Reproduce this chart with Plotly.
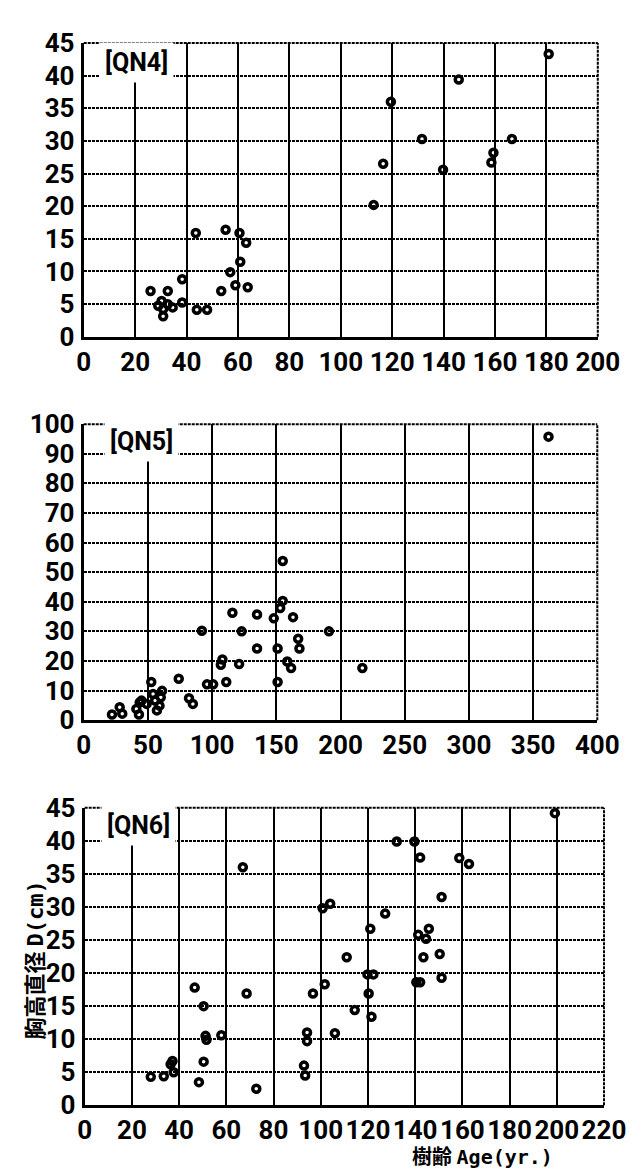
import plotly.graph_objects as go

# ---- data ----
qn4_age = [26, 29, 30.3, 30.9, 30.9, 32.7, 32.7, 34.6, 38.3, 38.3, 43.6, 44, 48, 53.5, 55.2, 57,
           59, 60.6, 60.9, 63.2, 63.8, 112.8, 116.5, 119.5, 131.6, 139.8, 145.9, 158.6, 159.4, 166.6, 180.9]
qn4_dbh = [7.0, 4.75, 5.5, 4.25, 3.15, 7.0, 5.0, 4.5, 8.8, 5.25, 15.9, 4.15, 4.15, 7.0, 16.4, 9.9,
           7.9, 15.9, 11.5, 14.4, 7.6, 20.2, 26.5, 36.0, 30.3, 25.6, 39.4, 26.7, 28.2, 30.3, 43.3]

qn5_age = [22, 28, 30, 41, 43, 43.6, 45, 49, 52.6, 54, 55.6, 57, 59, 60, 61, 74, 82, 85, 92, 96,
           100.8, 106.8, 108, 111, 115.8, 121, 123, 135, 135, 148, 151, 151, 153, 155, 155, 158.5,
           161.5, 163, 167, 168, 191, 217, 362]
qn5_dbh = [1.9, 4.4, 2.2, 3.8, 1.9, 6.0, 6.6, 5.5, 12.9, 8.8, 6.6, 3.3, 4.9, 7.7, 9.9, 14.0, 7.4, 5.5,
           30.2, 12.1, 12.1, 18.7, 20.5, 12.9, 36.3, 19.0, 30.0, 35.7, 24.2, 34.4, 24.2, 12.9, 37.9,
           53.8, 40.3, 19.8, 17.6, 34.8, 27.5, 24.2, 30.0, 17.6, 95.8]

qn6_age = [28, 33.5, 36.4, 37.2, 37.7, 46.6, 48.4, 50.4, 50.4, 51.2, 51.6, 57.9, 67, 68.6, 72.7,
           92.9, 93.4, 94.2, 94.2, 96.7, 100.8, 101.7, 104, 106, 111, 114.4, 119.8, 120.3, 121,
           121.5, 122.3, 127.3, 132.2, 139.7, 140.5, 141.3, 142.1, 142.1, 143.5, 144.6, 145.8,
           150.4, 151.2, 151.2, 158.7, 162.8, 199.2]
qn6_dbh = [4.3, 4.4, 6.2, 6.7, 5.0, 17.8, 3.5, 15.0, 6.6, 10.5, 9.9, 10.6, 36.0, 16.9, 2.5,
           6.0, 4.5, 11.0, 9.7, 16.9, 29.8, 18.3, 30.5, 10.9, 22.4, 14.4, 19.8, 16.9, 26.7,
           13.4, 19.8, 29.0, 39.9, 39.9, 18.6, 25.8, 37.5, 18.6, 22.4, 25.2, 26.7,
           22.9, 31.5, 19.3, 37.4, 36.5, 44.2]

panel_labels = ["[QN4]", "[QN5]", "[QN6]"]
label_pos = [(20.5, 42.0), (45, 94.3), (22.8, 42.3)]
x_ticks = [list(range(0, 201, 20)), list(range(0, 401, 50)), list(range(0, 221, 20))]
y_ticks = [list(range(0, 46, 5)), list(range(0, 101, 10)), list(range(0, 46, 5))]
y_title_cjk, y_title_lat = "胸高直径", "D(cm)"
x_title_cjk, x_title_lat = "樹齢", "Age(yr.)"

W, H = 639, 1176
# pixel boxes (left, right, top, bottom)
boxes = [(72, 610.5, 20.5, 322), (72, 610, 411.7, 715.4), (73, 617, 805.4, 1110.6)]

FONT = "Roboto, Noto Sans, sans-serif"
TICKFONT = dict(family=FONT, size=26, color="black", weight="bold")
HDASH = "3px,1px"

fig = go.Figure()
series = [(qn4_age, qn4_dbh), (qn5_age, qn5_dbh), (qn6_age, qn6_dbh)]
shapes = []
annotations = []
for i, (xs, ys) in enumerate(series):
    n = "" if i == 0 else str(i + 1)
    fig.add_trace(go.Scatter(
        x=xs, y=ys, mode="markers", xaxis="x" + n, yaxis="y" + n,
        marker=dict(symbol="circle-open", size=7, color="black", line=dict(width=3.5, color="black")),
        showlegend=False, cliponaxis=False))
    l, r, t, b = boxes[i]
    xt, yt = x_ticks[i], y_ticks[i]
    fig.layout["xaxis" + n] = dict(
        domain=[l / W, r / W], anchor="y" + n, range=[xt[0], xt[-1]],
        tickvals=xt, ticktext=[str(v) for v in xt], tickfont=TICKFONT, tickangle=0,
        showgrid=False,
        minor=dict(tickvals=xt[1:-1], showgrid=True, gridcolor="black", gridwidth=2,
                   griddash="solid", ticks=""),
        showline=True, linecolor="black", linewidth=3, zeroline=False,
        ticks="", ticklabelstandoff=0, fixedrange=True)
    fig.layout["yaxis" + n] = dict(
        domain=[1 - b / H, 1 - t / H], anchor="x" + n, range=[yt[0], yt[-1]],
        tickvals=yt, ticktext=[str(v) for v in yt], tickfont=TICKFONT,
        showgrid=False,
        minor=dict(tickvals=yt[1:-1], showgrid=True, gridcolor="black", gridwidth=2,
                   griddash=HDASH, ticks=""),
        showline=True, linecolor="black", linewidth=3, zeroline=False,
        ticks="", ticklabelstandoff=1, fixedrange=True)
    xd, yd = "x" + n + " domain", "y" + n + " domain"
    shapes.append(dict(type="line", xref=xd, yref=yd, x0=0, x1=1, y0=1, y1=1,
                       line=dict(color="black", width=2, dash=HDASH)))
    shapes.append(dict(type="line", xref=xd, yref=yd, x0=1, x1=1, y0=0, y1=1,
                       line=dict(color="black", width=2, dash=HDASH)))
    annotations.append(dict(
        x=label_pos[i][0], y=label_pos[i][1], xref="x" + n, yref="y" + n, text=panel_labels[i],
        showarrow=False, bgcolor="white", borderpad=5,
        font=dict(family=FONT, size=25, color="black", weight="bold")))

annotations.append(dict(
    x=19 / W, y=1 - 962 / H, xref="paper", yref="paper", xanchor="center", yanchor="middle",
    textangle=-90, showarrow=False,
    text="<b>" + y_title_cjk + " <span style=\"font-family:'DejaVu Sans Mono'\">" + y_title_lat + "</span></b>",
    font=dict(family="Noto Sans CJK JP", size=22, color="black")))
annotations.append(dict(
    x=490 / W, y=1 - 1162 / H, xref="paper", yref="paper", xanchor="center", yanchor="middle",
    showarrow=False, borderpad=0,
    text="<b>" + x_title_cjk + " <span style=\"font-family:'DejaVu Sans Mono'\">" + x_title_lat + "</span></b>",
    font=dict(family="Noto Sans CJK JP", size=20, color="black")))

fig.update_layout(width=W, height=H, margin=dict(l=0, r=0, t=0, b=0),
                  paper_bgcolor="white", plot_bgcolor="white",
                  shapes=shapes, annotations=annotations)
fig.write_html("out.html")
